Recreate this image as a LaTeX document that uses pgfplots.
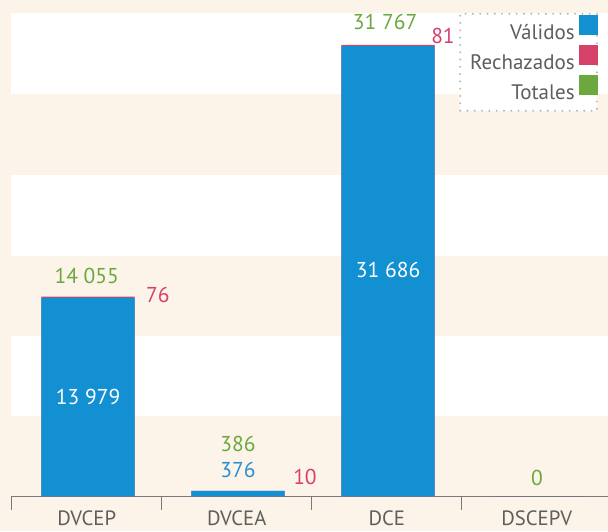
\documentclass[border=0pt]{standalone}
\usepackage{fontspec}
\setmainfont{PT Sans}
\usepackage{pgfplots}
\usepackage{pgfplotstable}
\pgfplotsset{compat=1.18}
\definecolor{mblue}{HTML}{1290D2}
\definecolor{lblue}{HTML}{2A8FD0}
\definecolor{mpink}{HTML}{D6416A}
\definecolor{mgreen}{HTML}{6BA83E}
\definecolor{cream}{HTML}{FDF4E9}
\definecolor{tgrey}{HTML}{5E5E5E}
\definecolor{lgrey}{HTML}{7A7A7A}
\definecolor{dgrey}{HTML}{B8B8B8}

\pgfplotstableread{
x valid rej total
0 13979 76 14055
1 376 10 386
2 31686 81 31767
3 0 0 0
}\datatable

\begin{document}
\begin{tikzpicture}
\useasboundingbox (0,0) rectangle (608pt,531pt);
\fill[cream] (0,0) rectangle (608pt,531pt);
\begin{axis}[
  at={(11.7pt,34.7pt)}, anchor=south west,
  scale only axis, width=596.3pt, height=496.3pt,
  xmin=-0.5, xmax=3.475, ymin=0, ymax=34933,
  ybar, bar width=93.3pt, bar shift=1.3pt,
  axis y line=none, axis x line*=bottom,
  x axis line style={draw=lgrey, line width=1.2pt},
  xtick={0,1,2,3}, xticklabels={DVCEP,DVCEA,DCE,DSCEPV},
  major tick length=0pt,
  extra x ticks={-0.5,0.5,1.5,2.5},
  extra x tick labels={},
  extra x tick style={major tick length=14pt, tick align=outside, tick style={draw=lgrey, line width=1.2pt}},
  xticklabel style={font=\fontsize{20.7}{20.7}\selectfont, text=tgrey, inner sep=0.5pt, yshift=-14.2pt},
  clip=false,
  legend style={at={(0.9832,0.9744)}, anchor=north east, draw=dgrey, line width=2.2pt,
    dash pattern=on 0pt off 7.3pt, line cap=round, fill=white,
    font=\fontsize{21}{21}\selectfont, text=tgrey,
    nodes={inner ysep=2pt, inner xsep=8pt, text height=20pt, text depth=5pt},
    row sep=1pt, inner xsep=2pt, inner ysep=4pt},
  legend cell align=right, legend plot pos=right,
]
\fill[white] (axis cs:-0.505,5653) rectangle (axis cs:3.475,11285);
\fill[white] (axis cs:-0.505,16916) rectangle (axis cs:3.475,22619);
\fill[white] (axis cs:-0.505,28322) rectangle (axis cs:3.475,34024);
\addplot[fill=mpink, draw=none, forget plot] table[x=x,y=total]{\datatable};
\addplot[fill=mblue, draw=none, forget plot] table[x=x,y=valid]{\datatable};
\addlegendimage{legend image code/.code={\path (0pt,0pt) rectangle (10pt,0pt);\fill[mblue,overlay] (-4pt,-2pt) rectangle (13pt,16pt);}}
\addlegendentry{Válidos}
\addlegendimage{legend image code/.code={\path (0pt,0pt) rectangle (10pt,0pt);\fill[mpink,overlay] (-4pt,-2pt) rectangle (13pt,16pt);}}
\addlegendentry{Rechazados}
\addlegendimage{legend image code/.code={\path (0pt,0pt) rectangle (10pt,0pt);\fill[mgreen,overlay] (-4pt,-2pt) rectangle (13pt,16pt);}}
\addlegendentry{Totales}
\begin{scope}[every node/.style={font=\fontsize{21.5}{21.5}\selectfont}]
\node[text=mgreen] at (axis cs:0,15482) {14 055};
\node[text=mpink] at (axis cs:0.475,14145) {76};
\node[text=white] at (axis cs:0.009,6967) {13 979};
\node[text=mgreen] at (axis cs:1.009,3659) {386};
\node[text=lblue] at (axis cs:1.009,1830) {376};
\node[text=mpink] at (axis cs:1.455,1337) {10};
\node[text=mgreen] at (axis cs:1.989,33357) {31 767};
\node[text=mpink] at (axis cs:2.375,32372) {81};
\node[text=white] at (axis cs:2.009,15904) {31 686};
\node[text=mgreen] at (axis cs:3.002,1267) {0};
\end{scope}
\end{axis}
\end{tikzpicture}
\end{document}
